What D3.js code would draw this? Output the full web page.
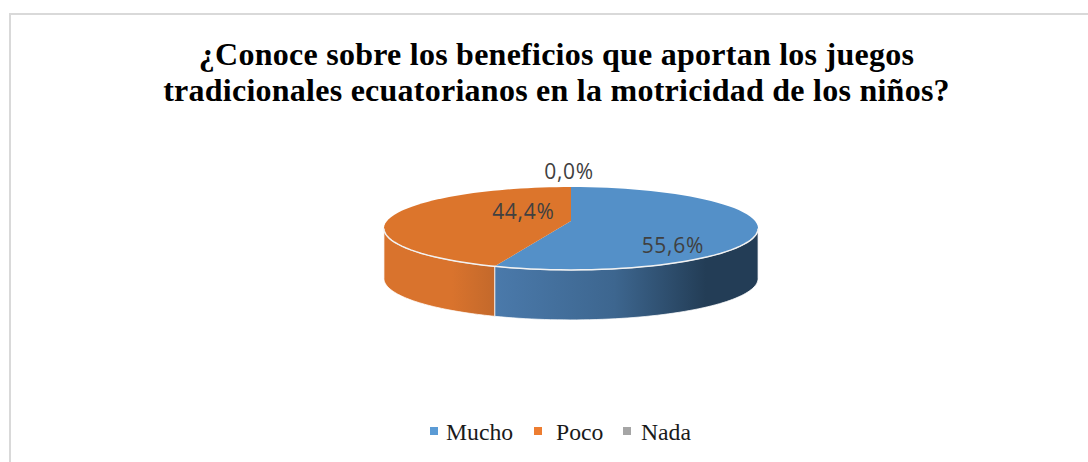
<!DOCTYPE html>
<html>
<head>
<meta charset="utf-8">
<style>
  html, body { margin: 0; padding: 0; background: #fff; overflow: hidden; }
  svg { display: block; }
</style>
<script src="https://cdn.jsdelivr.net/npm/d3@7"></script>
</head>
<body>
<svg id="canvas"></svg>
<script>
// values
const titleLines = [
  "¿Conoce sobre los beneficios que aportan los juegos",
  "tradicionales ecuatorianos en la motricidad de los niños?"
];
const categories = ["Mucho", "Poco", "Nada"];
const percents = [55.6, 44.4, 0.0];
const labels = ["55,6%", "44,4%", "0,0%"];

const width = 1088;
const height = 462;

// the pie is a flat circle seen in perspective
const cx = 571;
const cy = 221;
const radius = 184;
const tilt = 40.1;
const persp = 0.18;
const depth = 50;

const legendColor = d3.scaleOrdinal().domain(categories).range(["#5b9bd5", "#ed7d31", "#a5a5a5"]);
const topColor = d3.scaleOrdinal().domain(categories).range(["#5490c8", "#dc752c", "#a5a5a5"]);

const svg = d3.select("#canvas").attr("width", width).attr("height", height);
const defs = svg.append("defs");

// chart frame, only left and top edges show in the crop
svg.append("path")
  .attr("d", `M10,${height} V14 H${width}`)
  .attr("fill", "none")
  .attr("stroke", "#d9d9d9")
  .attr("stroke-width", 2);

// title
svg.append("g").selectAll("text")
  .data(titleLines)
  .join("text")
  .attr("x", 556.5)
  .attr("y", (d, i) => 65 + i * 36)
  .attr("text-anchor", "middle")
  .attr("font-family", "'Liberation Serif', serif")
  .attr("font-weight", "700")
  .attr("font-size", "32px")
  .attr("letter-spacing", "0.25px")
  .attr("fill", "#000")
  .text(d => d);

function project(angle, f = 1) {
  const u = f * Math.sin(angle);
  const v = -f * Math.cos(angle);
  const s = 1 / (1 - persp * v);
  return [cx + radius * u * s, cy + tilt * v * s];
}

const pie = d3.pie().sort(null).value(d => d.value);
const slices = pie(categories.map((c, i) => ({ name: c, value: percents[i], label: labels[i] })));
const line = d3.line();

// sample the rim between two angles
function rim(a0, a1) {
  return d3.range(0, 61).map(i => project(a0 + (a1 - a0) * i / 60));
}

// angles where the wall turns out of sight
const wallStart = Math.acos(-persp);
const wallEnd = 2 * Math.PI - wallStart;

function gradient(id, x0, x1, stops) {
  const g = defs.append("linearGradient")
    .attr("id", id)
    .attr("gradientUnits", "userSpaceOnUse")
    .attr("x1", x0).attr("x2", x1).attr("y1", 0).attr("y2", 0);
  stops.forEach(s => g.append("stop").attr("offset", s[0]).attr("stop-color", s[1]));
}
gradient("wall-Mucho", 497, 758, [[0, "#4a79aa"], [0.45, "#3d668f"], [0.8, "#233d56"], [1, "#233d56"]]);
gradient("wall-Poco", 384, 497, [[0, "#d9732d"], [0.6, "#d9732d"], [1, "#c2682b"]]);

// side walls
const wall = svg.append("g");
slices.forEach(d => {
  const a0 = Math.max(d.startAngle, wallStart);
  const a1 = Math.min(d.endAngle, wallEnd);
  if (a1 <= a0) return;
  const upper = rim(a0, a1);
  const lower = upper.map(p => [p[0], p[1] + depth]).reverse();
  wall.append("path")
    .attr("d", line(upper.concat(lower)) + "Z")
    .attr("fill", `url(#wall-${d.data.name})`)
    .attr("stroke", "#fff")
    .attr("stroke-opacity", 0.75)
    .attr("stroke-width", 1);
});

// top surface
svg.append("g").selectAll("path")
  .data(slices.filter(d => d.value > 0))
  .join("path")
  .attr("d", d => line([[cx, cy]].concat(rim(d.startAngle, d.endAngle))) + "Z")
  .attr("fill", d => topColor(d.data.name));

// light rim on the front edge
svg.append("path")
  .attr("d", line(rim(wallStart, wallEnd)))
  .attr("fill", "none")
  .attr("stroke", "#f2f2f2")
  .attr("stroke-width", 1.5);

// data labels, moved from the slice middle like the chart has them
const labelSpots = [
  { f: 0.6, dx: -9, dy: 20 },
  { f: 0.6, dx: 59, dy: -6 },
  { f: 1, dx: -2, dy: -16 }
];
svg.append("g").selectAll("text")
  .data(slices)
  .join("text")
  .attr("transform", (d, i) => {
    const p = project((d.startAngle + d.endAngle) / 2, labelSpots[i].f);
    return `translate(${p[0] + labelSpots[i].dx},${p[1] + labelSpots[i].dy})`;
  })
  .attr("text-anchor", "middle")
  .attr("dominant-baseline", "central")
  .attr("font-family", "'Open Sans', sans-serif")
  .attr("font-size", "21px")
  .attr("letter-spacing", "0.7px")
  .attr("fill", "#404040")
  .text(d => d.data.label);

// legend
const legendX = [430, 534, 623];
const legendTextX = [446, 556, 641];
const legend = svg.append("g").selectAll("g")
  .data(categories)
  .join("g");
legend.append("rect")
  .attr("x", (d, i) => legendX[i])
  .attr("y", 427)
  .attr("width", 8)
  .attr("height", 8)
  .attr("fill", d => legendColor(d));
legend.append("text")
  .attr("x", (d, i) => legendTextX[i])
  .attr("y", 440)
  .attr("font-family", "'Liberation Serif', serif")
  .attr("font-size", "23.7px")
  .attr("fill", "#1a1a1a")
  .text(d => d);
</script>
</body>
</html>
